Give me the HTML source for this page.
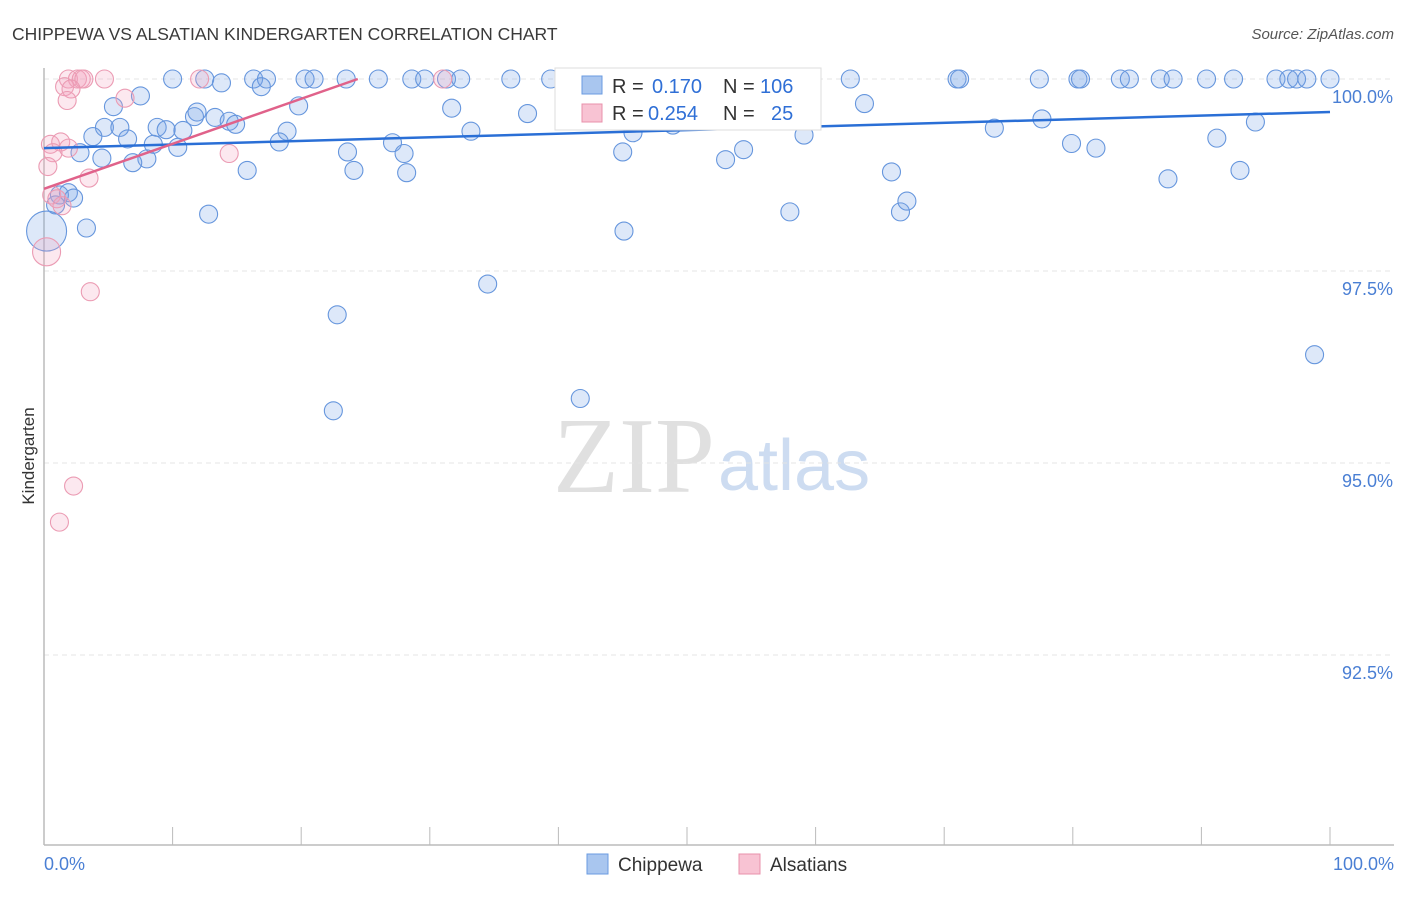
<!DOCTYPE html>
<html><head><meta charset="utf-8"><style>
body{margin:0;background:#fff;font-family:"Liberation Sans",sans-serif}
</style></head><body>
<svg id="c" width="1406" height="892" xmlns="http://www.w3.org/2000/svg">
<text x="12" y="40" font-size="17.5" fill="#3a3a3a">CHIPPEWA VS ALSATIAN KINDERGARTEN CORRELATION CHART</text>
<text x="1394" y="39" font-size="15" fill="#555" text-anchor="end" font-style="italic">Source: ZipAtlas.com</text>
<text x="553" y="492" font-size="108" fill="#e0e0e0" font-family="Liberation Serif">ZIP</text>
<text x="718" y="490" font-size="72" fill="#cddcf1">atlas</text>
<text x="34" y="456" font-size="17" fill="#333" transform="rotate(-90 34 456)" text-anchor="middle">Kindergarten</text>
<g id="grid"></g><g id="pts"></g><g id="lines"></g>
<g>
<rect x="555" y="68" width="266" height="62" fill="#fff" stroke="#ddd"/>
<rect x="582" y="76" width="20" height="18" fill="#a9c6ef" stroke="#6a9be0"/>
<text x="612" y="93" font-size="20" fill="#333">R =</text>
<text x="652" y="93" font-size="20" fill="#2f6fd6">0.170</text>
<text x="723" y="93" font-size="20" fill="#333">N =</text>
<text x="760" y="93" font-size="20" fill="#2f6fd6">106</text>
<rect x="582" y="104" width="20" height="18" fill="#f8c3d3" stroke="#e890ab"/>
<text x="612" y="120" font-size="20" fill="#333">R =</text>
<text x="648" y="120" font-size="20" fill="#2f6fd6">0.254</text>
<text x="723" y="120" font-size="20" fill="#333">N =</text>
<text x="771" y="120" font-size="20" fill="#2f6fd6">25</text>
</g>
<g>
<rect x="587" y="854" width="21" height="20" fill="#a9c6ef" stroke="#6a9be0"/>
<text x="618" y="871" font-size="19" fill="#333">Chippewa</text>
<rect x="739" y="854" width="21" height="20" fill="#f8c3d3" stroke="#e890ab"/>
<text x="770" y="871" font-size="19" fill="#333">Alsatians</text>
</g>
</svg>
<script>
const yTicks=[100,97.5,95,92.5];
const yTickLabels=["100.0%","97.5%","95.0%","92.5%"];
const xTickLabels=["0.0%","100.0%"];
const blueX=[10,12.5,13.8,16.3,17.3,20.3,21,23.5,26,28.6,29.6,31.3,32.4,36.3,39.4,46.4,51.6,62.7,71,71.2,77.4,80.4,80.6,83.7,84.4,86.8,87.8,90.4,92.5,95.8,96.8,97.4,98.2,100,
7.5,5.4,16.9,19.8,31.7,37.6,63.8,11.9,11.7,13.3,14.4,14.9,4.7,5.9,8.8,9.5,10.8,3.8,6.5,18.9,33.2,45.8,48.9,73.9,77.6,94.2,91.2,59.1,27.1,18.3,8.5,10.4,2.8,4.5,8,6.9,23.6,28,45,54.4,53,79.9,81.8,
15.8,24.1,28.2,65.9,87.4,93,1.9,1.2,2.3,0.9,12.8,58,66.6,67.1,45.1,3.3,0.2,
34.5,22.8,98.8,41.7,22.5];
const blueY=[100,100,99.95,100,100,100,100,100,100,100,100,100,100,100,100,100,100,100,100,100,100,100,100,100,100,100,100,100,100,100,100,100,100,100,
99.78,99.64,99.9,99.65,99.62,99.55,99.68,99.57,99.51,99.5,99.45,99.41,99.37,99.37,99.37,99.34,99.33,99.25,99.22,99.32,99.32,99.3,99.4,99.36,99.48,99.44,99.23,99.27,99.17,99.18,99.15,99.11,99.04,98.97,98.96,98.91,99.05,99.03,99.05,99.08,98.95,99.16,99.1,
98.81,98.81,98.78,98.79,98.7,98.81,98.52,98.49,98.45,98.36,98.24,98.27,98.27,98.41,98.02,98.06,98.02,
97.33,96.93,96.41,95.84,95.68];
const blueR=Array(blueX.length).fill(9);blueR[blueX.length-6]=20;
const pinkX=[1.9,2.6,2.9,3.1,4.7,12.1,31,1.6,2.1,1.8,6.3,0.5,1.3,0.7,1.9,14.4,0.3,3.5,0.6,1,1.4,0.2,3.6,2.3,1.2];
const pinkY=[100,100,100,100,100,100,100,99.9,99.87,99.72,99.75,99.15,99.18,99.04,99.1,99.03,98.86,98.71,98.49,98.44,98.35,97.75,97.23,94.7,94.23];
const pinkR=Array(pinkX.length).fill(9);pinkR[21]=14;
const blueTrend=[[0,99.1],[100,99.57]];
const pinkTrend=[[0,98.57],[24.4,100]];
const X0=44,X1=1330,YTOP=79,PX_PER=76.8;
const sx=v=>X0+(X1-X0)*v/100;
const sy=v=>YTOP+(100-v)*PX_PER;
const NS="http://www.w3.org/2000/svg";
function mk(t,a,p){const e=document.createElementNS(NS,t);for(const k in a)e.setAttribute(k,a[k]);p.appendChild(e);return e;}
const g=document.getElementById('grid');
yTicks.forEach((t,i)=>{
 const l=mk('line',{x1:44,x2:1394,y1:sy(t),y2:sy(t),stroke:'#e4e4e4','stroke-dasharray':'5,4'},g);
 
 
 const tx=mk('text',{x:1393,y:sy(t)+24,'font-size':18,fill:'#4a7fd4','text-anchor':'end'},g);tx.textContent=yTickLabels[i];
 
 
});
const ax=mk('line',{x1:44,x2:44,y1:68,y2:845,stroke:'#bbb','stroke-width':1.5},g);


const bx=mk('line',{x1:44,x2:1394,y1:845,y2:845,stroke:'#bbb','stroke-width':1.5},g);


for(let i=0;i<=10;i++){const t=mk('line',{x1:sx(i*10),x2:sx(i*10),y1:827,y2:845,stroke:'#bbb'},g);
 
 }
[[0,'start',44],[1,'end',1394]].forEach(([i,a,x])=>{const t=mk('text',{x:x,y:870,'font-size':18,fill:'#4a7fd4','text-anchor':a},g);t.textContent=xTickLabels[i];
 
 });
const p=document.getElementById('pts');
blueX.forEach((x,i)=>{const c=mk('circle',{cx:sx(x),cy:sy(blueY[i]),r:blueR[i],fill:'rgba(120,165,230,0.25)',stroke:'#6696dd','stroke-width':1.1},p);
 
 });
pinkX.forEach((x,i)=>{const c=mk('circle',{cx:sx(x),cy:sy(pinkY[i]),r:pinkR[i],fill:'rgba(245,165,190,0.25)',stroke:'#eb9bb3','stroke-width':1.1},p);
 
 });
const L=document.getElementById('lines');
const b=mk('line',{x1:sx(blueTrend[0][0]),y1:sy(blueTrend[0][1]),x2:sx(blueTrend[1][0]),y2:sy(blueTrend[1][1]),stroke:'#2a6fd6','stroke-width':2.5},L);


const k=mk('line',{x1:sx(pinkTrend[0][0]),y1:sy(pinkTrend[0][1]),x2:sx(pinkTrend[1][0]),y2:sy(pinkTrend[1][1]),stroke:'#e0628a','stroke-width':2.5},L);


</script>
</body></html>
